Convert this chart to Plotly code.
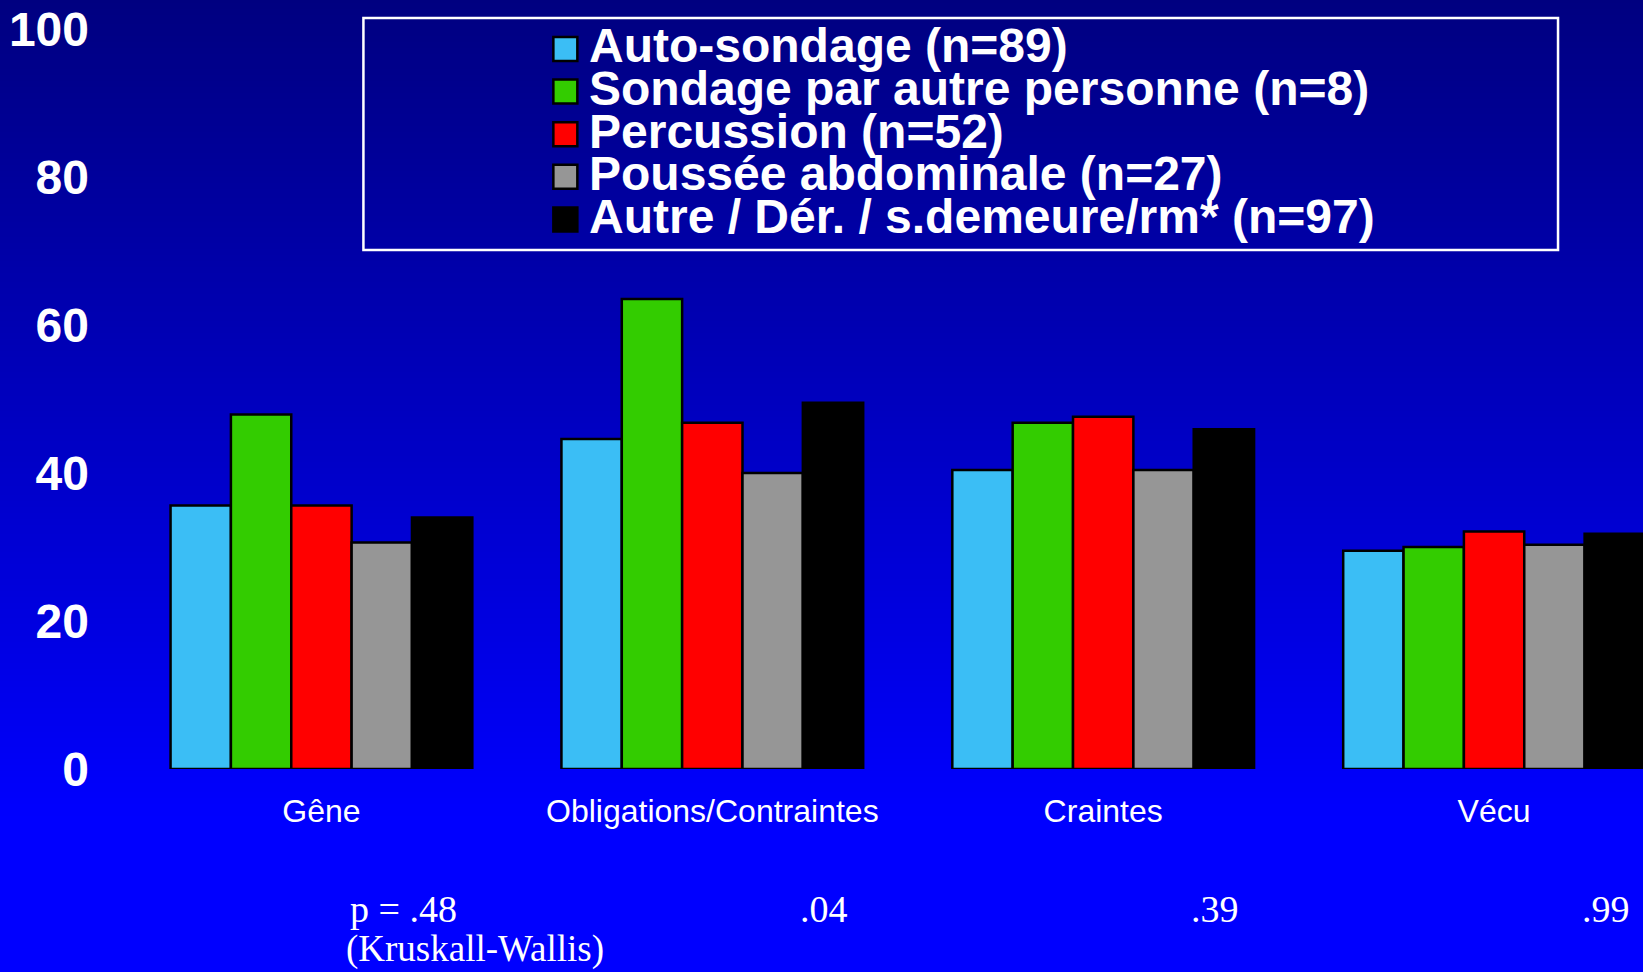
import plotly.graph_objects as go

# ---------------- data ----------------
categories = ["Gêne", "Obligations/Contraintes", "Craintes", "Vécu"]
series_names = [
    "Auto-sondage (n=89)",
    "Sondage par autre personne (n=8)",
    "Percussion (n=52)",
    "Poussée abdominale (n=27)",
    "Autre / Dér. / s.demeure/rm* (n=97)",
]
auto_sondage = [35.6, 44.6, 40.4, 29.5]
sondage_autre = [47.9, 63.5, 46.8, 30.0]
percussion = [35.6, 46.8, 47.6, 32.1]
poussee = [30.6, 40.0, 40.4, 30.3]
autre = [34.0, 49.5, 45.9, 31.8]
p_values = ["p = .48", ".04", ".39", ".99"]
p_note = "(Kruskall-Wallis)"
y_ticks = [0, 20, 40, 60, 80, 100]

series_values = [auto_sondage, sondage_autre, percussion, poussee, autre]
colors = ["#3BBEF5", "#33CC00", "#FF0000", "#969696", "#000000"]

W, H = 1643, 972
PL, PR, PT, PB = 125.5, 1643.0, 29.0, 769.0  # plot area in pixels


def px(x):
    return (x - PL) / (PR - PL)


def py(y):
    return (PB - y) / (PB - PT)


fig = go.Figure()
for name, vals, col in zip(series_names, series_values, colors):
    fig.add_trace(go.Bar(
        x=categories, y=vals, name=name,
        marker=dict(color=col, line=dict(color="#000000", width=2.5)),
        showlegend=False, hoverinfo="skip",
    ))

shapes = []
# vertical gradient background (navy at top -> bright blue at bottom)
step = 3
for i in range(0, H, step):
    t = min(1.0, (i + step / 2) / 820.0)
    b = int(round(128 + (255 - 128) * t))
    shapes.append(dict(
        type="rect", xref="paper", yref="paper", layer="below",
        x0=px(-2), x1=px(W + 2), y0=py(i + step + 0.6), y1=py(i - (2 if i == 0 else 0)),
        fillcolor=f"rgb(0,0,{b})", line=dict(width=0),
    ))

# legend box
shapes.append(dict(
    type="rect", xref="paper", yref="paper", layer="above",
    x0=px(363), x1=px(1558), y0=py(250), y1=py(18),
    line=dict(color="white", width=2.5), fillcolor="rgba(0,0,0,0)",
))

annotations = []
row0, row_gap = 49.0, 42.6
for k, (name, col) in enumerate(zip(series_names, colors)):
    cy = row0 + k * row_gap
    shapes.append(dict(
        type="rect", xref="paper", yref="paper", layer="above",
        x0=px(553), x1=px(577), y0=py(cy + 12), y1=py(cy - 12),
        fillcolor=col, line=dict(color="#000000", width=2.5),
    ))
    annotations.append(dict(
        text=name, xref="paper", yref="paper", x=px(587), y=py(cy - 3),
        xanchor="left", yanchor="middle", showarrow=False,
        font=dict(family="Liberation Sans, Arial", size=48, color="white", weight="bold"),
    ))

# p-values
for i, pv in enumerate(p_values):
    annotations.append(dict(
        text=pv, xref="x", yref="paper", x=i + 0.352, y=py(909),
        xanchor="right", yanchor="middle", showarrow=False,
        font=dict(family="Liberation Serif, Times New Roman", size=38, color="white"),
    ))
annotations.append(dict(
    text=p_note, xref="paper", yref="paper", x=px(344), y=py(949),
    xanchor="left", yanchor="middle", showarrow=False,
    font=dict(family="Liberation Serif, Times New Roman", size=37, color="white"),
))

fig.update_layout(
    width=W, height=H,
    margin=dict(l=PL, r=W - PR, t=PT, b=H - PB, pad=0),
    paper_bgcolor="#0000FF", plot_bgcolor="rgba(0,0,0,0)",
    barmode="group", bargap=0.228, bargroupgap=0,
    shapes=shapes, annotations=annotations,
    xaxis=dict(
        range=[-0.5, 3.381], showgrid=False, zeroline=False, showline=False,
        ticks="", ticklabelstandoff=20,
        tickfont=dict(family="Liberation Sans, Arial", size=32, color="white"),
    ),
    yaxis=dict(
        range=[0, 100], tickvals=y_ticks, showgrid=False, zeroline=False,
        showline=False, ticks="", ticklabelstandoff=36,
        tickfont=dict(family="Liberation Sans, Arial", size=48, color="white", weight="bold"),
    ),
)

fig.write_html(
    "out.html",
    config={"displayModeBar": False},
    post_script="document.body.style.margin='0';document.body.style.overflow='hidden';",
)
